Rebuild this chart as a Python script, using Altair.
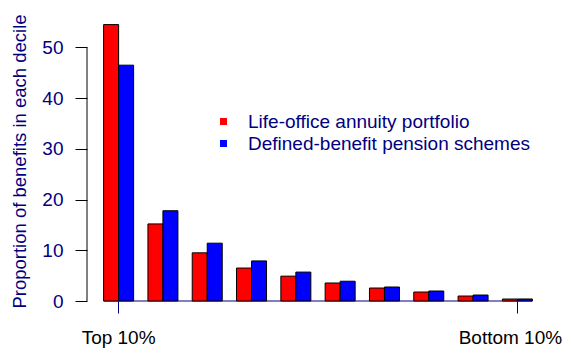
import altair as alt
import pandas as pd

deciles = ["Top 10%", "2nd", "3rd", "4th", "5th", "6th", "7th", "8th", "9th", "Bottom 10%"]
series = ["Life-office annuity portfolio", "Defined-benefit pension schemes"]
life_office = [54.5, 15.2, 9.5, 6.5, 4.9, 3.55, 2.56, 1.77, 0.98, 0.39]
defined_benefit = [46.5, 17.8, 11.4, 7.9, 5.7, 3.9, 2.76, 1.97, 1.18, 0.40]
y_ticks = [0, 10, 20, 30, 40, 50]
x_tick_labels = ["Top 10%", "Bottom 10%"]
colors = ["#FF0000", "#0000FF"]

rows = []
for i, d in enumerate(deciles):
    rows.append({"decile": d, "series": series[0], "value": life_office[i]})
    rows.append({"decile": d, "series": series[1], "value": defined_benefit[i]})
df = pd.DataFrame(rows)
df_line = pd.DataFrame({"start": [deciles[0]], "end": [deciles[-1]]})

NAVY = "#000080"
FONT = "Liberation Sans"

x_scale = alt.Scale(domain=deciles, paddingInner=0.323, paddingOuter=0.375)
y_scale = alt.Scale(domain=[0, 56], nice=False)

x_axis = alt.Axis(values=x_tick_labels, title=None, domain=False, ticks=True,
                  tickSize=12, tickColor=NAVY, tickWidth=1, labelColor="black",
                  labelFontSize=19, labelFont=FONT, labelPadding=15, labelAngle=0,
                  labelLimit=0,
                  labelOffset={"condition": {"test": f"datum.value == '{deciles[-1]}'", "value": -7},
                               "value": 0})

bars = alt.Chart(df).mark_bar(stroke="black", strokeWidth=1).encode(
    x=alt.X("decile:N", scale=x_scale, sort=deciles, axis=x_axis),
    xOffset=alt.XOffset("series:N", sort=series, scale=alt.Scale(paddingInner=0, paddingOuter=0)),
    y=alt.Y("value:Q", scale=y_scale,
            axis=alt.Axis(values=y_ticks, title="Proportion of benefits in each decile",
                          domain=False, grid=False, tickSize=12, tickColor="black", tickWidth=1,
                          labelColor=NAVY, labelFontSize=19, labelFont=FONT, labelPadding=12,
                          titleFont=FONT, titleFontSize=18.5, titleColor=NAVY,
                          titleFontWeight="normal", titleX=-62, titleY=144,
                          titleBaseline="alphabetic", titleAlign="center", titleAngle=270,
                          titleLimit=0)),
    color=alt.Color("series:N", sort=series, scale=alt.Scale(domain=series, range=colors),
                    legend=alt.Legend(title=None, orient="none", legendX=127, legendY=95,
                                      symbolType="square", symbolSize=49, symbolStrokeWidth=0,
                                      labelFontSize=19, labelFont=FONT, labelColor=NAVY,
                                      labelOffset=15, labelLimit=0, padding=0, rowPadding=2)),
)

base_rule = alt.Chart(df_line).mark_rule(color=NAVY, strokeWidth=1).encode(
    x=alt.X("start:N", scale=x_scale, bandPosition=0, axis=x_axis),
    x2=alt.X2("end", bandPosition=1),
    y=alt.datum(0),
)

y_rule = alt.Chart(df_line).mark_rule(color="black", strokeWidth=1).encode(
    x=alt.value(0),
    y=alt.datum(y_ticks[0]),
    y2=alt.datum(y_ticks[-1]),
)

chart = alt.layer(base_rule, bars, y_rule).properties(
    width=462, height=284,
    padding={"left": 79, "top": 9, "right": 14, "bottom": 47},
    autosize=alt.AutoSizeParams(type="none"),
).configure_view(stroke=None)

chart.save("out.html", embed_options={"renderer": "svg", "actions": False})
